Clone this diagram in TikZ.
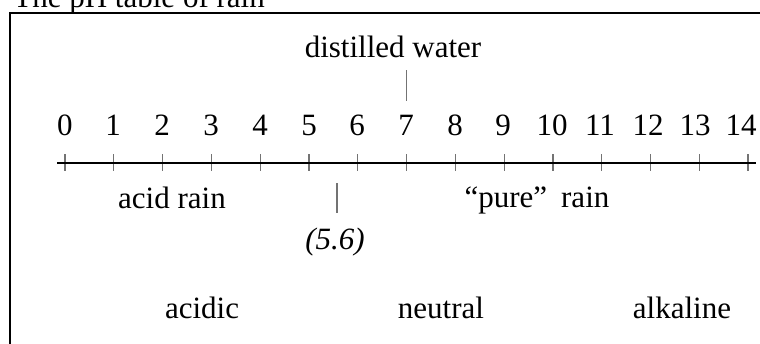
\documentclass[tikz,border=0pt]{standalone}
\usepackage{fontspec}
\setmainfont{Liberation Serif}
\begin{document}
\fontsize{15.5}{18}\selectfont
\begin{tikzpicture}[x=0.5pt,y=-0.5pt,
  txt/.style={anchor=base,inner sep=0pt},
  marker/.style={black!55,line width=0.6pt}]
\useasboundingbox (0,0) rectangle (760,343);
\clip (0,0) rectangle (760,343);
\node[txt,anchor=base west] (title) at (13,7) {The pH table of rain};
\draw[line width=1.1pt] (10,13) rectangle (820,420);
% the pH scale
\coordinate (axisL) at (57,163);
\coordinate (axisR) at (756,163);
\foreach \n in {0,...,14}{
    \coordinate (t\n) at ({65+48.79*\n},163);
    \draw[marker] (t\n) +(0,-9) -- +(0,8);
}
\foreach \n/\x in {0/65,1/113,2/162,3/211,4/260,5/309,6/357,7/406,
                   8/455,9/503,10/552,11/600,12/648,13/695,14/741}{
    \node[txt] (d\n) at (\x,135) {\n};
}
\draw[line width=1pt] (axisL) -- (axisR);
% marks above and below
\node[txt] (distilled) at (393,57) {distilled water};
\coordinate (wtop) at (406.6,70);
\coordinate (wbot) at (406.6,101);
\draw[marker] (wtop) -- (wbot);
\node[txt] (acidrain) at (172,208) {acid rain};
\coordinate (rtop) at (337,183);
\coordinate (rbot) at (337,213);
\draw[marker] (rtop) -- (rbot);
\node[txt] (limit) at (335,249) {\itshape (5.6)};
\node[txt] (purerain) at (537,207) {“pure”\hspace{0.45em}rain};
% ranges
\node[txt] (acidic) at (202,318) {acidic};
\node[txt] (neutral) at (441,318) {neutral};
\node[txt] (alkaline) at (682,318) {alkaline};
\end{tikzpicture}
\end{document}
